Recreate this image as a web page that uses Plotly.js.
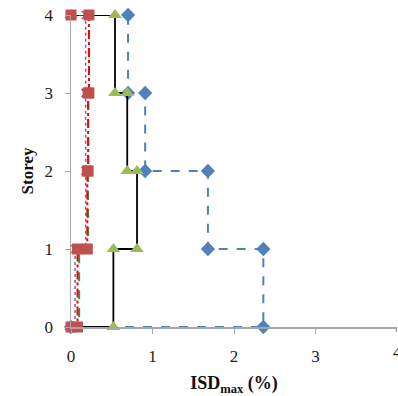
<!DOCTYPE html>
<html><head><meta charset="utf-8">
<script src="https://cdn.plot.ly/plotly-3.0.1.min.js"></script>
<style>html,body{margin:0;padding:0;background:#fff;overflow:hidden}#c{width:398px;height:396px}</style>
</head><body><div id="c"></div>
<script>
// Storey levels
const storeyBlue   = [0, 0, 1, 1, 2, 2, 3, 3, 4];
const isdBlue      = [0, 2.36, 2.36, 1.68, 1.68, 0.91, 0.91, 0.70, 0.70];
const storeyGreen  = [0, 0, 1, 1, 2, 2, 3, 3, 4, 4];
const isdGreen     = [0, 0.52, 0.52, 0.81, 0.81, 0.69, 0.69, 0.54, 0.54, 0];
const storeyPurple = [0, 0, 1, 1, 2, 2, 3, 3, 4, 4];
const isdPurple    = [0, 0.05, 0.05, 0.18, 0.18, 0.18, 0.18, 0.18, 0.18, 0];
const storeyLime   = [0, 0, 1, 1, 2, 2, 3, 3, 4];
const isdLime      = [0, 0.10, 0.10, 0.21, 0.21, 0.21, 0.21, 0.22, 0.22];
const storeyRed    = [0, 0, 1, 1, 2, 2, 3, 3, 4, 4];
const isdRed       = [0, 0.08, 0.08, 0.20, 0.20, 0.21, 0.21, 0.22, 0.22, 0];
const yTicks = [0, 1, 2, 3, 4];
const xTicks = [0, 1, 2, 3, 4];
const xTickLabels = ['0', '1', '2', '3', '4'];

const serif = "Liberation Serif, Times New Roman, serif";
const traces = [
  {x: isdBlue, y: storeyBlue, mode: 'lines+markers', cliponaxis: false,
   line: {color: '#4F81BD', width: 2, dash: 'dash'},
   marker: {symbol: 'diamond', size: 11, color: '#4F81BD'}},
  {x: isdGreen, y: storeyGreen, mode: 'lines+markers', cliponaxis: false,
   line: {color: '#000000', width: 1.8},
   marker: {symbol: 'triangle-up', size: 12, color: '#9BBB59'}},
  {x: isdPurple, y: storeyPurple, mode: 'lines+markers', cliponaxis: false,
   line: {color: '#8064A2', width: 1.5, dash: 'dot'},
   marker: {symbol: 'x-thin', size: 8, line: {color: '#8064A2', width: 1.5}}},
  {x: isdLime, y: storeyLime, mode: 'lines', cliponaxis: false,
   line: {color: '#00B050', width: 2, dash: 'dash'}},
  {x: isdRed, y: storeyRed, mode: 'lines+markers', cliponaxis: false,
   line: {color: '#FF0000', width: 2, dash: 'dashdot'},
   marker: {symbol: 'square', size: 11, color: '#C0504D'}}
];

const tickFont = {family: serif, size: 17, color: '#222'};
const layout = {
  width: 398, height: 396,
  margin: {l: 71, r: 1, t: 15, b: 69},
  showlegend: false,
  paper_bgcolor: '#fff', plot_bgcolor: '#fff',
  xaxis: {
    range: [0, 4], tickvals: xTicks.slice(0, 4), ticktext: xTickLabels.slice(0, 4),
    showgrid: false, zeroline: false, showline: true, linecolor: '#A6A6A6', linewidth: 1.5,
    ticks: 'outside', ticklen: 5, tickcolor: '#A6A6A6', ticklabelstandoff: 8,
    tickfont: tickFont,
    title: {text: '<b>ISD<sub>max</sub> (%)</b>', font: {family: serif, size: 18, color: '#111'}, standoff: 14}
  },
  yaxis: {
    range: [0, 4], tickvals: yTicks, ticktext: yTicks.map(String),
    showgrid: false, zeroline: false, showline: true, linecolor: '#A6A6A6', linewidth: 1.5,
    ticks: 'outside', ticklen: 5, tickcolor: '#A6A6A6', ticklabelstandoff: 8,
    tickfont: tickFont,
    title: {text: '<b>Storey</b>', font: {family: serif, size: 17, color: '#111'}, standoff: 6}
  },
  shapes: [
    {type: 'line', xref: 'paper', yref: 'paper', x0: 0.998, x1: 0.998, y0: 0, y1: -5 / 312,
     line: {color: '#A6A6A6', width: 1.5}}
  ],
  annotations: [
    {x: xTicks[4], y: 0, xref: 'x', yref: 'paper', yshift: -25, text: xTickLabels[4],
     showarrow: false, font: tickFont, xanchor: 'center', yanchor: 'middle'}
  ]
};
Plotly.newPlot('c', traces, layout, {staticPlot: true});
</script></body></html>
